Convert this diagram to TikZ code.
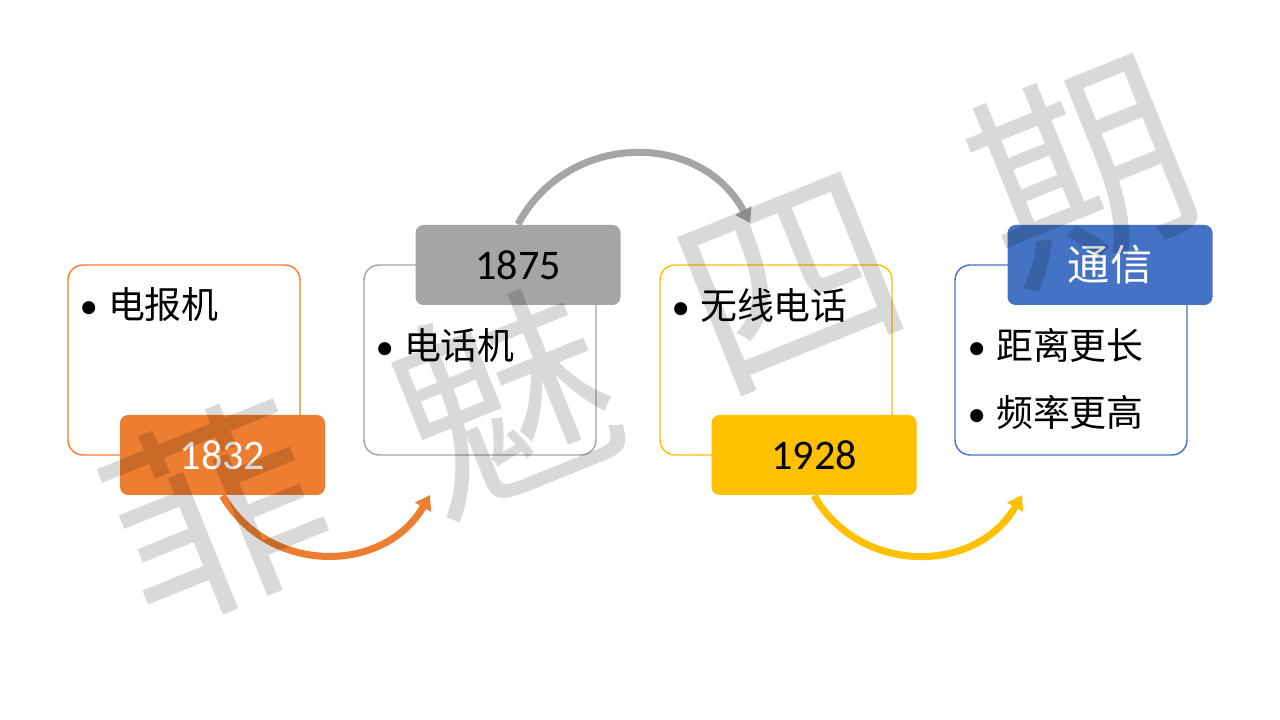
\documentclass[tikz,border=0pt]{standalone}
\usepackage{fontspec}
\setmainfont{Carlito}
\newfontfamily\cjk{Noto Sans CJK SC}
\usetikzlibrary{arrows.meta, positioning}
\definecolor{yearorange}{RGB}{237, 125, 49}
\definecolor{yeargray}{RGB}{165, 165, 165}
\definecolor{yeargold}{RGB}{255, 192, 0}
\definecolor{yearblue}{RGB}{68, 114, 196}
\newcommand{\dotitem}[1]{\textbullet\hspace{0.10cm}{\cjk #1}}

\tikzset{
  card/.style={draw=#1, line width=0.4pt, fill=white, rounded corners=4.3pt,
    minimum width=2.32cm, minimum height=1.90cm, inner sep=0pt},
  yearbox/.style={fill=#1, rounded corners=2.3pt, minimum width=2.05cm,
    minimum height=0.80cm, inner sep=0pt, font=\fontsize{12}{14}\selectfont},
  itemtext/.style={anchor=west, inner sep=0pt, font=\fontsize{10.5}{12}\selectfont},
  flow/.style={line width=2pt, draw=#1, -{Triangle[width=5pt, length=4pt]}},
  wmchar/.style={text=black, text opacity=0.15, rotate=22, inner sep=0pt,
    font=\cjk\fontsize{61}{63}\selectfont}
}

\begin{document}
\begin{tikzpicture}
  \useasboundingbox[fill=white] (0, 0) rectangle (12.8, 7.2);

  % Cards
  \node[card=yearorange] (card1) at (1.84, 3.60) {};
  \node[card=yeargray] (card2) at (4.80, 3.60) {};
  \node[card=yeargold] (card3) at (7.76, 3.60) {};
  \node[card=yearblue] (card4) at (10.71, 3.60) {};

  % Year labels
  \node[yearbox=yearorange, text=white] (y1832) at (2.225, 2.65) {1832};
  \node[yearbox=yeargray] (y1875) at (5.18, 4.55) {1875};
  \node[yearbox=yeargold] (y1928) at (8.14, 2.65) {1928};
  \node[yearbox=yearblue, text=white] (ytongxin) at (11.10, 4.55) {\cjk 通信};

  % Items
  \node[itemtext] (t1) at (0.79, 4.15) {\dotitem{电报机}};
  \node[itemtext] (t2) at (3.75, 3.75) {\dotitem{电话机}};
  \node[itemtext] (t3) at (6.71, 4.15) {\dotitem{无线电话}};
  \node[itemtext] (t4a) at (9.67, 3.75) {\dotitem{距离更长}};
  \node[itemtext] (t4b) at (9.67, 3.08) {\dotitem{频率更高}};

  % Arrow ends
  \coordinate (end1) at (4.30, 2.25);
  \coordinate (end2) at (7.50, 4.97);
  \coordinate (end3) at (10.22, 2.25);

  % Curved arrows
  \draw[flow=yearorange] (y1832.south) to[out=-60, in=-120, looseness=1.13] (end1);
  \draw[flow=yeargray] (y1875.north) to[out=62, in=118, looseness=1.16] (end2);
  \draw[flow=yeargold] (y1928.south) to[out=-60, in=-120, looseness=1.13] (end3);

  % Watermark
  \node[wmchar] (wm1) at (2.16, 2.08) {菲};
  \node[wmchar] (wm2) at (5.05, 3.22) {魅};
  \node[wmchar] (wm3) at (7.92, 4.36) {四};
  \node[wmchar] (wm4) at (10.82, 5.50) {期};
\end{tikzpicture}
\end{document}
